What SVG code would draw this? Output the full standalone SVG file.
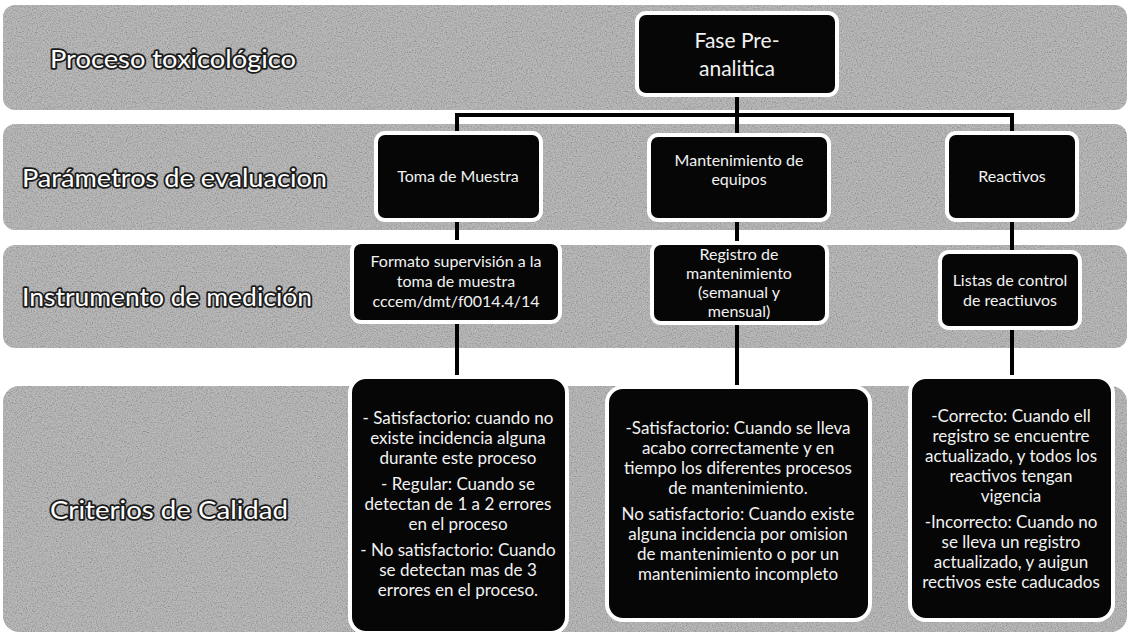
<svg xmlns="http://www.w3.org/2000/svg" width="1130" height="636" viewBox="0 0 1130 636">
<defs>
  <filter id="tex" x="0" y="0" width="1" height="1">
    <feTurbulence type="fractalNoise" baseFrequency="0.8" numOctaves="2" seed="4" result="t"/>
    <feColorMatrix in="t" type="matrix" values="0.33 0.33 0.33 0 0  0.33 0.33 0.33 0 0  0.33 0.33 0.33 0 0  0 0 0 0 1" result="g"/>
    <feComponentTransfer in="g" result="g2">
      <feFuncR type="linear" slope="1.6" intercept="0.1"/>
      <feFuncG type="linear" slope="1.6" intercept="0.1"/>
      <feFuncB type="linear" slope="1.6" intercept="0.1"/>
    </feComponentTransfer>
    <feComposite in="g2" in2="SourceAlpha" operator="in" result="gc"/>
    <feBlend in="SourceGraphic" in2="gc" mode="multiply"/>
  </filter>
  <style>
    .band { fill: #bababa; filter: url(#tex); }
    .box { fill: #060606; stroke: #ffffff; stroke-width: 4; }
    .lbl { font-family: Lato, "Liberation Sans", sans-serif; font-size: 25px; fill: #ffffff; stroke: #1c1c1c; stroke-width: 3.5px; paint-order: stroke; stroke-linejoin: round; }
    .t { font-family: Lato, "Liberation Sans", sans-serif; font-size: 16px; fill: #f2f2f2; text-anchor: middle; }
    .tc { font-family: Lato, "Liberation Sans", sans-serif; font-size: 17px; fill: #f2f2f2; text-anchor: middle; }
    .tb { font-family: Lato, "Liberation Sans", sans-serif; font-size: 21px; fill: #f2f2f2; text-anchor: middle; }
    .conn line { stroke: #000000; stroke-width: 4; }
  </style>
</defs>
<rect width="1130" height="636" fill="#ffffff"/>

<g id="bands">
  <rect class="band" x="3" y="5" width="1124" height="105" rx="12"/>
  <rect class="band" x="3" y="124" width="1124" height="106" rx="12"/>
  <rect class="band" x="3" y="245" width="1124" height="103" rx="12"/>
  <rect class="band" x="3" y="386" width="1124" height="246" rx="16"/>
</g>

<g id="labels">
  <text class="lbl" x="50" y="68" textLength="246" lengthAdjust="spacingAndGlyphs">Proceso toxicológico</text>
  <text class="lbl" x="22" y="187" textLength="305" lengthAdjust="spacingAndGlyphs">Parámetros de evaluacion</text>
  <text class="lbl" x="22" y="306" textLength="290" lengthAdjust="spacingAndGlyphs">Instrumento de medición</text>
  <text class="lbl" x="50" y="519" textLength="238" lengthAdjust="spacingAndGlyphs">Criterios de Calidad</text>
</g>

<g class="conn" id="connectors">
  <line x1="737" y1="95" x2="737" y2="117"/>
  <line x1="455" y1="115" x2="1014" y2="115"/>
  <line x1="457" y1="113" x2="457" y2="133"/>
  <line x1="737" y1="113" x2="737" y2="135"/>
  <line x1="1012" y1="113" x2="1012" y2="133"/>
  <line x1="457" y1="220" x2="457" y2="242"/>
  <line x1="737" y1="220" x2="737" y2="243"/>
  <line x1="1012" y1="220" x2="1012" y2="252"/>
  <line x1="457" y1="322" x2="457" y2="377"/>
  <line x1="737" y1="323" x2="737" y2="387"/>
  <line x1="1012" y1="328" x2="1012" y2="377"/>
</g>

<g id="fase">
  <rect class="box" x="637" y="13" width="200" height="82" rx="9"/>
  <text class="tb" x="737" y="48">Fase Pre-</text>
  <text class="tb" x="737" y="76">analitica</text>
</g>

<g id="toma">
  <rect class="box" x="376" y="133" width="165" height="87" rx="9"/>
  <text class="t" x="458" y="182">Toma de Muestra</text>
</g>

<g id="mantenimiento">
  <rect class="box" x="649" y="135" width="180" height="85" rx="9"/>
  <text class="t" x="739" y="166">Mantenimiento de</text>
  <text class="t" x="739" y="185">equipos</text>
</g>

<g id="reactivos">
  <rect class="box" x="947" y="133" width="130" height="87" rx="9"/>
  <text class="t" x="1012" y="182">Reactivos</text>
</g>

<g id="formato">
  <rect class="box" x="352" y="242" width="208" height="80" rx="9"/>
  <text class="t" x="456" y="267">Formato supervisión  a la</text>
  <text class="t" x="456" y="287">toma de muestra</text>
  <text class="t" x="456" y="307">cccem/dmt/f0014.4/14</text>
</g>

<g id="registro">
  <rect class="box" x="652" y="243" width="175" height="80" rx="9"/>
  <text class="t" x="739" y="260">Registro de</text>
  <text class="t" x="739" y="279">mantenimiento</text>
  <text class="t" x="739" y="298">(semanual y</text>
  <text class="t" x="739" y="317">mensual)</text>
</g>

<g id="listas">
  <rect class="box" x="940" y="252" width="140" height="76" rx="9"/>
  <text class="t" x="1010" y="286">Listas de control</text>
  <text class="t" x="1010" y="306">de reactiuvos</text>
</g>

<g id="criterio-toma">
  <rect class="box" x="350" y="377" width="217" height="256" rx="16"/>
  <text class="tc" x="458" y="424">- Satisfactorio: cuando no</text>
  <text class="tc" x="458" y="444">existe incidencia alguna</text>
  <text class="tc" x="458" y="464">durante este proceso</text>
  <text class="tc" x="458" y="490">- Regular: Cuando se</text>
  <text class="tc" x="458" y="510">detectan  de 1 a 2 errores</text>
  <text class="tc" x="458" y="530">en el proceso</text>
  <text class="tc" x="458" y="556">- No satisfactorio: Cuando</text>
  <text class="tc" x="458" y="576">se detectan mas de 3</text>
  <text class="tc" x="458" y="596">errores en el proceso.</text>
</g>

<g id="criterio-mantenimiento">
  <rect class="box" x="607" y="387" width="263" height="233" rx="16"/>
  <text class="tc" x="738" y="434">-Satisfactorio: Cuando se lleva</text>
  <text class="tc" x="738" y="454">acabo correctamente y en</text>
  <text class="tc" x="738" y="474">tiempo los diferentes procesos</text>
  <text class="tc" x="738" y="494">de mantenimiento.</text>
  <text class="tc" x="738" y="520">No satisfactorio: Cuando existe</text>
  <text class="tc" x="738" y="540">alguna incidencia por omision</text>
  <text class="tc" x="738" y="560">de mantenimiento o por un</text>
  <text class="tc" x="738" y="580">mantenimiento incompleto</text>
</g>

<g id="criterio-reactivos">
  <rect class="box" x="910" y="377" width="203" height="243" rx="16"/>
  <text class="tc" x="1011" y="422">-Correcto: Cuando ell</text>
  <text class="tc" x="1011" y="442">registro se encuentre</text>
  <text class="tc" x="1011" y="462">actualizado, y  todos los</text>
  <text class="tc" x="1011" y="482">reactivos tengan</text>
  <text class="tc" x="1011" y="502">vigencia</text>
  <text class="tc" x="1011" y="528">-Incorrecto: Cuando no</text>
  <text class="tc" x="1011" y="548">se lleva un registro</text>
  <text class="tc" x="1011" y="568">actualizado, y  auigun</text>
  <text class="tc" x="1011" y="588">rectivos este caducados</text>
</g>
</svg>
